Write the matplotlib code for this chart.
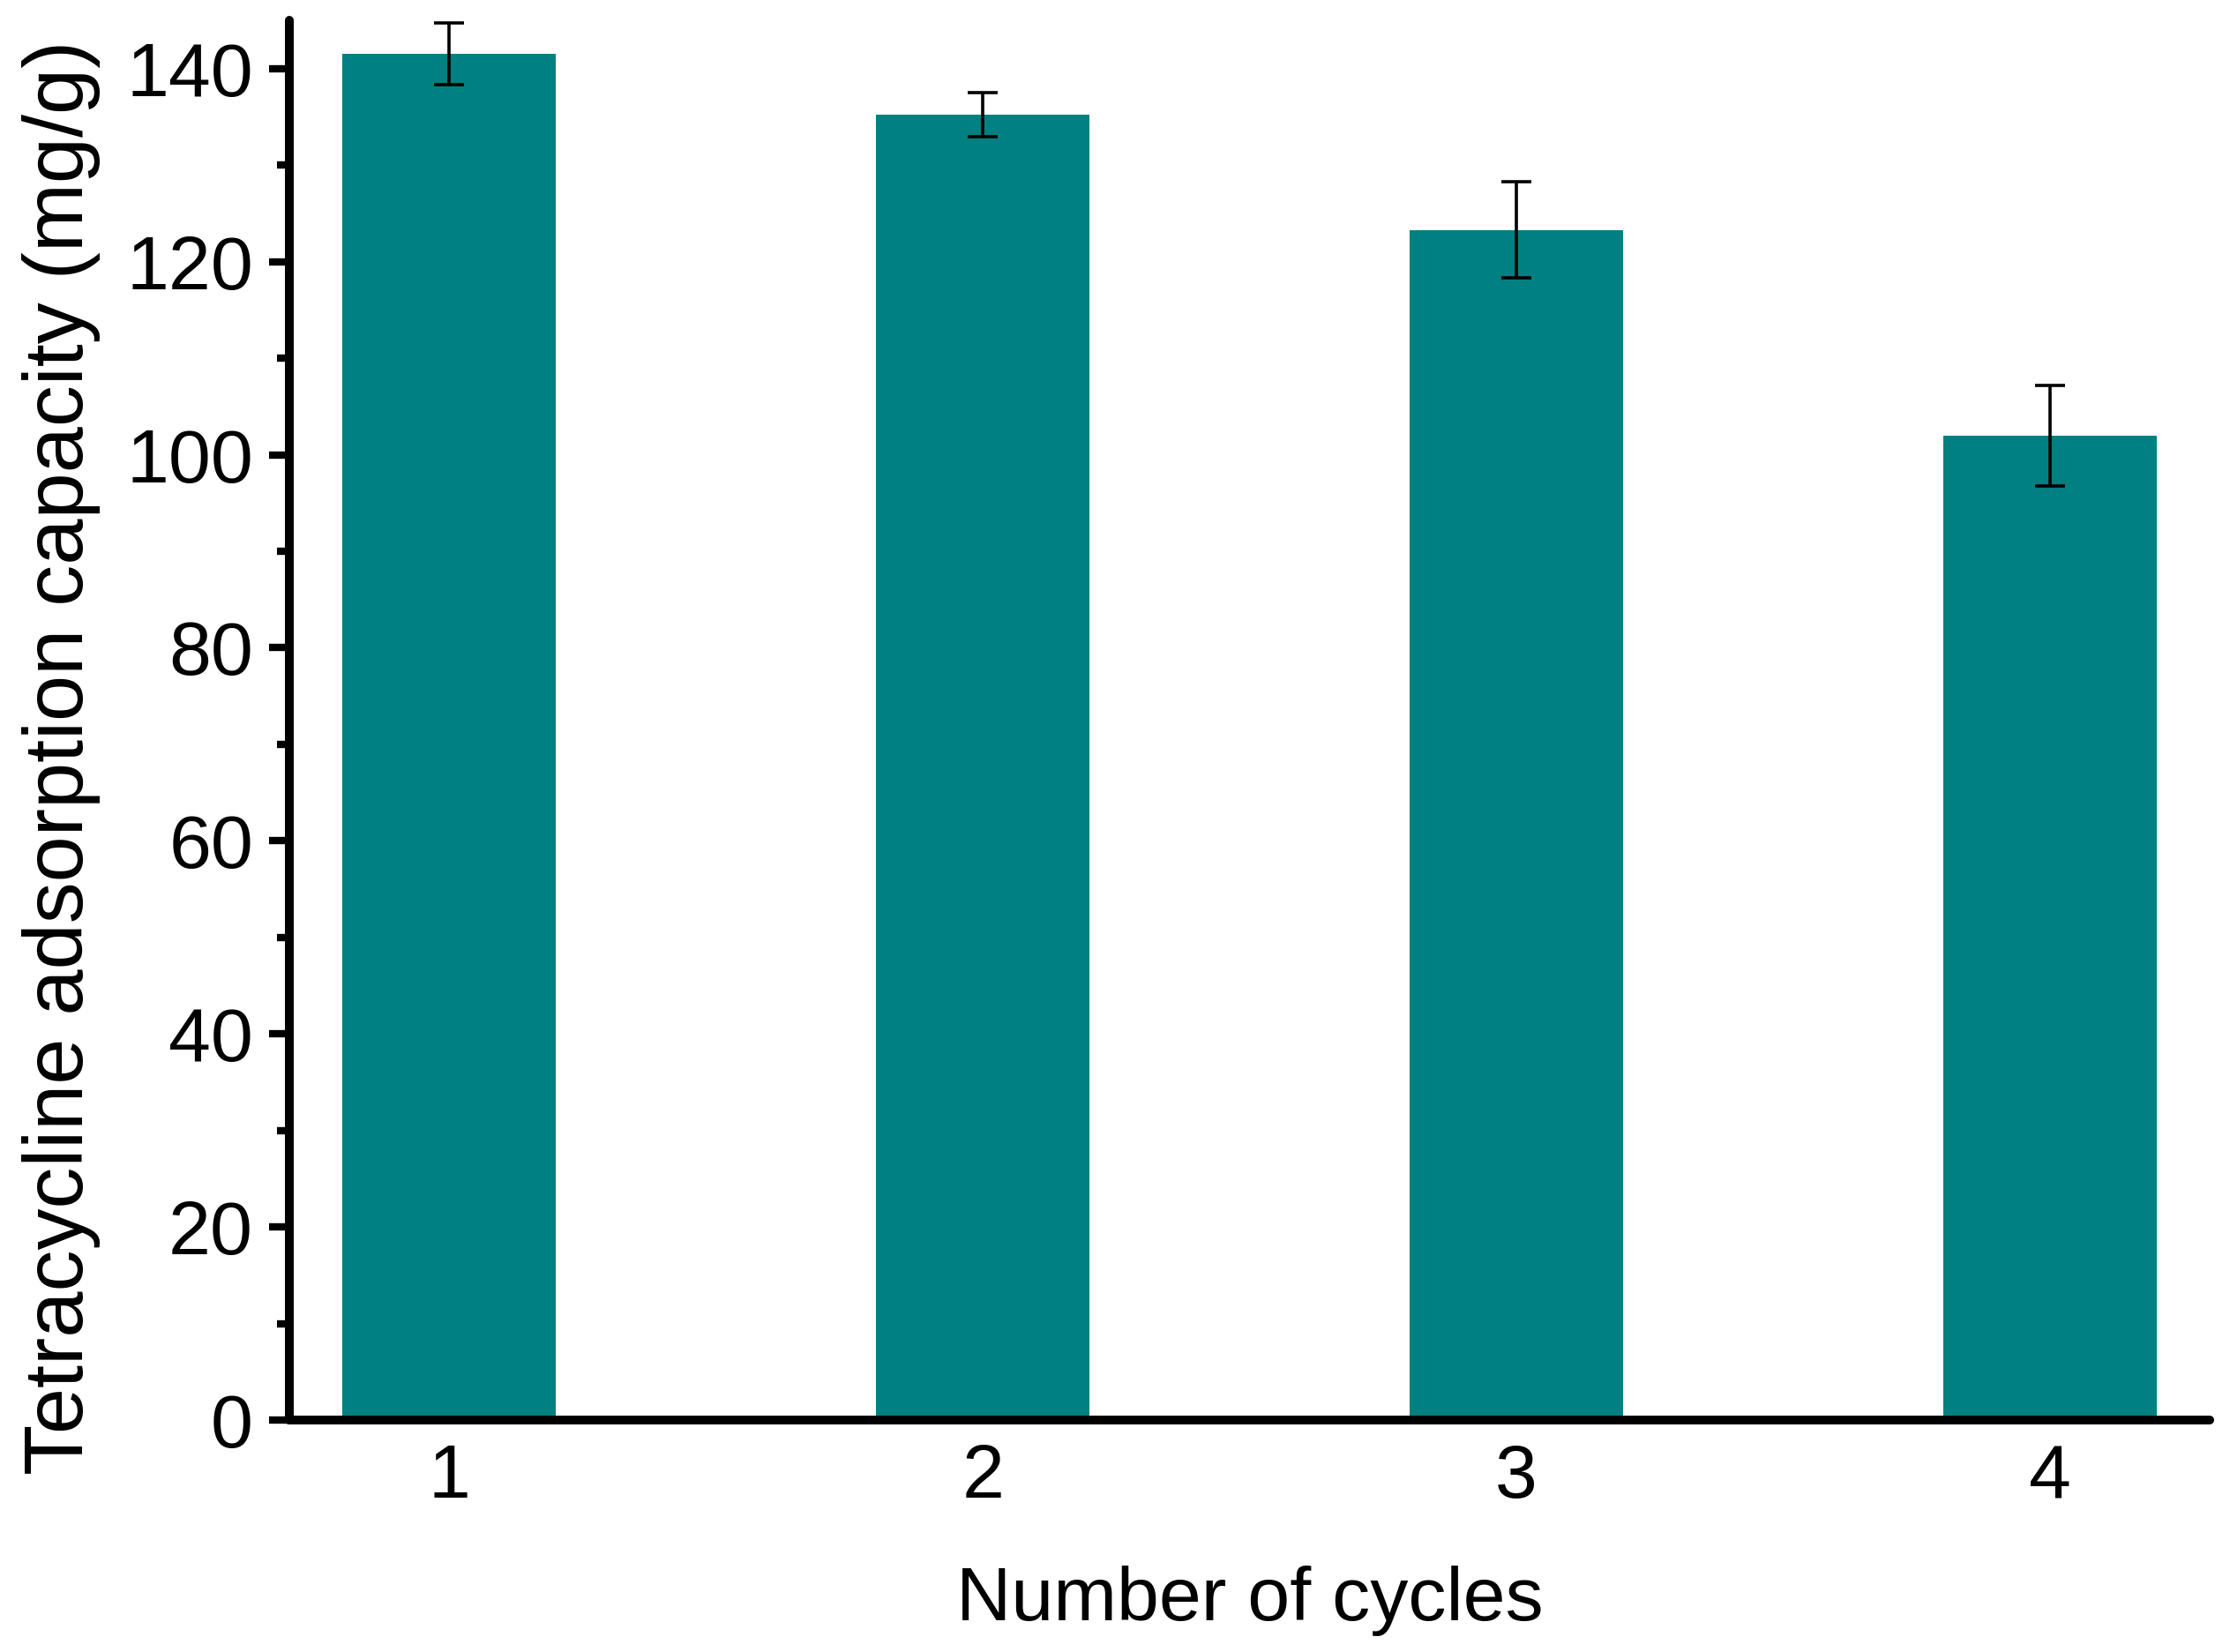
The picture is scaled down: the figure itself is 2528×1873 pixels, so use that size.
import numpy as np
import matplotlib
matplotlib.use('Agg')
import matplotlib.pyplot as plt

plt.rcParams['font.family'] = ['Liberation Sans', 'DejaVu Sans']

cycles = [1, 2, 3, 4]
capacity = [141.5, 135.2, 123.3, 102.0]
capacity_err = [3.2, 2.3, 5.0, 5.2]
y_ticks = [0, 20, 40, 60, 80, 100, 120, 140]

fig = plt.figure(figsize=(25.28, 18.73), dpi=100)
ax = fig.add_axes([328 / 2528, 1 - 1610 / 1873, (2505 - 328) / 2528, (1610 - 23) / 1873])

ax.bar(cycles, capacity, width=0.4, color='#008080', zorder=2)
ax.errorbar(cycles, capacity, yerr=capacity_err, fmt='none', ecolor='black',
            elinewidth=2.6, capsize=12, capthick=2.6, zorder=3)

ax.set_xlim(0.7, 4.3)
ax.set_ylim(0, 145)
ax.set_xticks(cycles)
ax.set_yticks(y_ticks)
ax.set_yticks(np.arange(10, 145, 20), minor=True)

for side in ['top', 'right']:
    ax.spines[side].set_visible(False)
for side in ['left', 'bottom']:
    ax.spines[side].set_linewidth(7.2)
    ax.spines[side].set_capstyle('round')

ax.tick_params(axis='y', which='major', direction='out', length=16.5, width=6,
               labelsize=62, pad=13)
ax.tick_params(axis='y', which='minor', direction='out', length=10, width=6)
ax.tick_params(axis='x', which='both', length=0, labelsize=62, pad=19)

ax.set_xlabel('Number of cycles', fontsize=62, labelpad=42)
fig.text(70 / 2528, 1 - 859 / 1873, 'Tetracycline adsorption capacity (mg/g)',
         rotation=90, ha='center', va='center', fontsize=67.5)

fig.savefig('out.png', dpi=100)
plt.close('all')
